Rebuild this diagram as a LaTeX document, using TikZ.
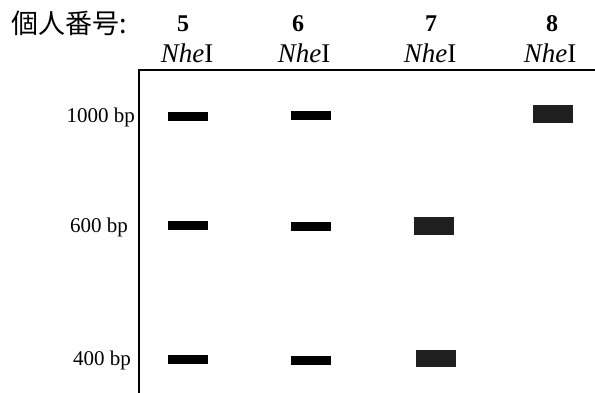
\documentclass[tikz,border=0pt]{standalone}
\usepackage{fontspec}
\setmainfont{Liberation Serif}
\newfontfamily\cjk{Noto Sans CJK JP}
\begin{document}
\begin{tikzpicture}[x=1pt,y=-1pt,
  lanenum/.style={font=\fontsize{24}{26}\selectfont\bfseries, inner sep=0pt, anchor=base},
  enzyme/.style={font=\fontsize{27}{29}\selectfont, inner sep=0pt, anchor=base},
  sizelabel/.style={font=\fontsize{21}{23}\selectfont, inner sep=0pt, anchor=base east},
  thinband/.style={fill=black, draw=none, minimum width=40pt, minimum height=9pt, inner sep=0pt},
  thickband/.style={fill=black!88, draw=none, minimum width=40pt, minimum height=18pt, inner sep=0pt},
  gelline/.style={line width=1.6pt}]
\useasboundingbox (0,0) rectangle (595,393);
% title
\node[font=\cjk\fontsize{27}{29}\selectfont, inner sep=0pt, anchor=west] (title) at (11,23) {個人番号:};
% lane numbers
\node[lanenum] (n5) at (183,32) {5};
\node[lanenum] (n6) at (298,32) {6};
\node[lanenum] (n7) at (431,32) {7};
\node[lanenum] (n8) at (552,32) {8};
% enzyme labels
\node[enzyme] (e5) at (187,63) {\textit{Nhe}I};
\node[enzyme] (e6) at (304,63) {\textit{Nhe}I};
\node[enzyme] (e7) at (430,63) {\textit{Nhe}I};
\node[enzyme] (e8) at (550,63) {\textit{Nhe}I};
% gel frame
\coordinate (tl) at (139,70);
\coordinate (tr) at (595,70);
\coordinate (bl) at (139,393);
\draw[gelline] (tr) -- (tl) -- (bl);
% size labels
\node[sizelabel] (s1000) at (135,123) {1000 bp};
\node[sizelabel] (s600) at (128,233) {600 bp};
\node[sizelabel] (s400) at (131,365) {400 bp};
% bands
\node[thinband] (b5a) at (188,117) {};
\node[thinband] (b6a) at (311,116) {};
\node[thickband] (b8a) at (553,114) {};
\node[thinband] (b5b) at (188,226) {};
\node[thinband] (b6b) at (311,227) {};
\node[thickband] (b7b) at (434,226) {};
\node[thinband] (b5c) at (188,359) {};
\node[thinband] (b6c) at (311,360) {};
\node[thickband, minimum height=17pt] (b7c) at (436,358) {};
\end{tikzpicture}
\end{document}
